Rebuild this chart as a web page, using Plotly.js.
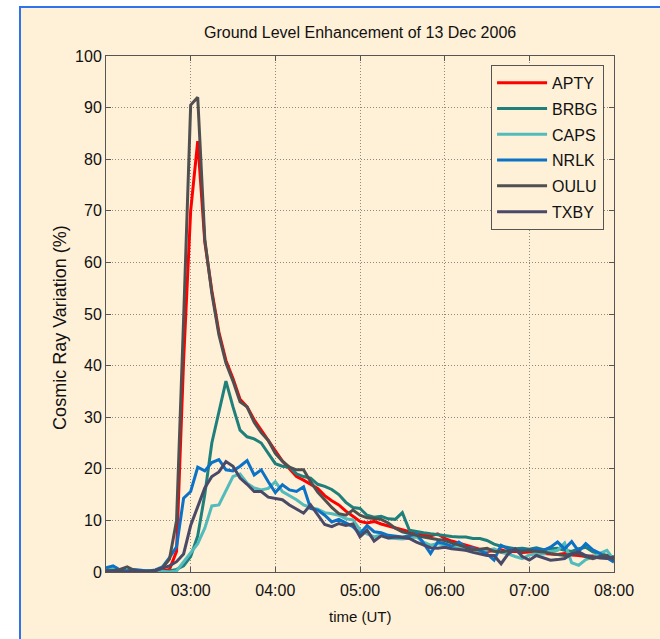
<!DOCTYPE html>
<html>
<head>
<meta charset="utf-8">
<script src="https://cdn.plot.ly/plotly-3.0.1.min.js"></script>
<style>
  html, body { margin: 0; padding: 0; background: #ffffff; }
  #frame { position: absolute; left: 19px; top: 6px; width: 641px; height: 633px;
           background: #FFF0D8; border-left: 2px solid #2F72EE; border-top: 2px solid #2F72EE; box-sizing: border-box; }
  #chart { position: absolute; left: 0; top: 0; width: 660px; height: 639px; }
</style>
</head>
<body>
<div id="frame"></div>
<div id="chart"></div>
<script>
// 5-minute samples from 02:00 to 08:00 UT, 13 Dec 2006
const startTime = '2006-12-13T02:00:00Z';
const stepMinutes = 5;
const nPoints = 73;

const stations = ['APTY', 'BRBG', 'CAPS', 'NRLK', 'OULU', 'TXBY'];

const APTY = [0, 0.1, 0.2, 0.1, 0, 0.2, 0.1, 0, 0.2, 0.5,
  4, 41, 70, 83.5, 64, 54.5, 46.5, 41, 37.5, 33.5,
  32, 29.5, 27.5, 25.5, 23.3, 21.5, 20, 18.5, 17.8, 17,
  16.2, 14.8, 13.8, 13, 11.8, 10.8, 9.8, 9.5, 9.8, 9.3,
  8.9, 8.6, 8.2, 7.8, 7.5, 7.3, 7.0, 7.4, 6.5, 6.0,
  5.6, 5.2, 4.8, 4.4, 4.0, 4.1, 4.3, 3.9, 4.0, 3.8,
  3.9, 3.7, 3.6, 3.5, 3.4, 3.6, 3.3, 3.2, 3.0, 3.1,
  2.9, 2.8, 2.6];

const BRBG = [0.2, 0.4, 0.1, 0.3, 0.2, 0, 0.3, 0.1, 0, 0.2,
  0.5, 1.2, 3, 7, 15, 25, 31, 37, 32, 27.5,
  26.2, 25.8, 25, 23, 21, 20.5, 20.3, 19, 18.5, 18.2,
  17, 16.6, 16, 15, 13.5, 12.5, 12.3, 11, 10.6, 10.8,
  10.3, 10.2, 11.5, 8.1, 7.8, 7.6, 7.4, 7.2, 7.1, 6.9,
  6.8, 6.8, 6.5, 6.5, 6.1, 5.4, 5.0, 4.8, 4.5, 4.6,
  4.4, 4.7, 4.3, 4.5, 4.6, 4.2, 4.0, 4.5, 4.8, 3.9,
  3.6, 3.3, 2.9];

const CAPS = [0.5, 1.0, 0.3, 0.2, 0.4, 0.2, 0.1, 0.3, 0.2, 0,
  0.2, 2, 3.8, 5.5, 8.5, 12.8, 13, 15.8, 18.5, 19,
  17.2, 16.3, 15.9, 16.2, 17.5, 15.6, 14.8, 14, 13, 12.5,
  12.2, 11.5, 11.3, 11, 10.3, 10.1, 8.2, 7.4, 6.8, 7.2,
  6.6, 6.5, 6.4, 6.6, 6.8, 5.8, 5.2, 5.5, 5.2, 5.0,
  4.6, 4.2, 4.4, 4.0, 4.3, 4.5, 3.8, 3.5, 3.0, 2.6,
  3.3, 3.6, 3.5, 4.0, 4.2, 5.6, 1.8, 1.3, 2.4, 2.9,
  3.6, 4.2, 2.3];

const NRLK = [0.8, 1.2, 0.4, 0.2, 0.5, 0.3, 0.2, 0.4, 1.0, 2.8,
  4.9, 14.3, 15.6, 20.3, 19.6, 21.2, 21.8, 19.8, 19.6, 20.5,
  21.6, 18.8, 19.8, 17.5, 15.4, 16.9, 15.9, 15.6, 16.5, 12.3,
  12.0, 11.0, 9.7, 10.2, 9.5, 8.8, 7.4, 9.0, 7.8, 7.6,
  7.1, 6.9, 6.8, 7.0, 7.4, 5.6, 3.6, 5.8, 5.5, 5.0,
  5.8, 4.8, 4.6, 4.2, 3.5, 2.3, 5.2, 4.5, 4.3, 4.2,
  4.3, 4.5, 4.2, 4.8, 5.8, 4.5, 5.9, 4.0, 5.5, 4.3,
  3.6, 2.8, 1.9];

const OULU = [0.3, 0.2, 0.5, 1.0, 0.3, 0.2, 0.1, 0.3, 0.8, 2.5,
  10, 49, 90.5, 92, 64.5, 54, 46, 40.5, 37, 33,
  32, 29, 27, 25.5, 23, 21.5, 20.3, 19.8, 19.8, 17.5,
  15.5, 14, 12.5, 11.3, 11, 12, 11, 10.5, 10.4, 10.2,
  9.5, 8.5, 7.8, 7.4, 7.1, 6.8, 6.5, 6.3, 6.1, 5.6,
  5.2, 4.8, 4.3, 4.4, 4.6, 4.0, 3.9, 4.1, 4.2, 4.0,
  4.2, 4.0, 3.9, 3.6, 3.4, 3.2, 3.5, 3.6, 3.0, 2.6,
  3.0, 3.2, 2.3];

const TXBY = [0.1, 0.2, 0.1, 0, 0.2, 0.1, 0, 0.3, 0.7, 1.2,
  2, 3.5, 9, 12.5, 16.3, 18.5, 19.4, 21.4, 20.5, 18.2,
  17, 15.6, 15.6, 14.5, 14.3, 14.0, 13.0, 12.2, 11.4, 13,
  11.2, 9.2, 8.8, 9.4, 9.0, 9.3, 6.8, 8.1, 6.0, 7.0,
  6.6, 6.8, 6.7, 6.5, 5.8, 5.2, 4.7, 4.6, 4.8, 4.5,
  4.3, 4.2, 3.8, 3.5, 3.2, 3.2, 1.6, 3.5, 4.5, 3.0,
  2.3, 3.2, 2.8, 2.3, 2.4, 2.6, 3.5, 3.9, 3.2, 2.9,
  2.7, 2.6, 2.9];

const seriesValues = [APTY, BRBG, CAPS, NRLK, OULU, TXBY];
const seriesColors = ['#FF0000', '#1E7F7B', '#52BCBC', '#0B72C6', '#505050', '#4A4A68'];

const tickTimes = ['2006-12-13 03:00', '2006-12-13 04:00', '2006-12-13 05:00',
                   '2006-12-13 06:00', '2006-12-13 07:00', '2006-12-13 08:00'];
const tickLabels = ['03:00', '04:00', '05:00', '06:00', '07:00', '08:00'];
const yTicks = [0, 10, 20, 30, 40, 50, 60, 70, 80, 90, 100];

function pad(n) { return (n < 10 ? '0' : '') + n; }
const t0 = new Date(startTime).getTime();
const times = [];
for (let i = 0; i < nPoints; i++) {
  const d = new Date(t0 + i * stepMinutes * 60000);
  times.push(d.getUTCFullYear() + '-' + pad(d.getUTCMonth() + 1) + '-' + pad(d.getUTCDate()) +
             ' ' + pad(d.getUTCHours()) + ':' + pad(d.getUTCMinutes()));
}

const FONT = '"Liberation Sans", Arial, sans-serif';

const traces = stations.map((name, k) => ({
  type: 'scatter',
  mode: 'lines',
  name: name,
  x: times,
  y: seriesValues[k],
  line: { color: seriesColors[k], width: 3 },
  legendgroup: name,
  hoverinfo: 'x+y+name'
}));

const layout = {
  width: 660,
  height: 639,
  paper_bgcolor: 'rgba(0,0,0,0)',
  plot_bgcolor: '#FFF0D8',
  margin: { l: 106, r: 46, t: 56, b: 67, pad: 0 },
  font: { family: FONT, size: 16, color: '#111111' },
  showlegend: true,
  legend: {
    x: 0.758, y: 0.983, xanchor: 'left', yanchor: 'top',
    bgcolor: '#FFF0D8', bordercolor: '#555555', borderwidth: 1,
    font: { family: FONT, size: 16, color: '#111111' },
    traceorder: 'grouped', tracegroupgap: 2, itemwidth: 50
  },
  xaxis: {
    type: 'date',
    range: ['2006-12-13 02:00', '2006-12-13 08:00'],
    tickmode: 'array',
    tickvals: tickTimes,
    ticktext: tickLabels,
    ticks: 'inside', ticklen: 5, tickcolor: '#555555',
    showline: true, linecolor: '#555555', linewidth: 1, mirror: 'ticks',
    showgrid: true, gridcolor: '#8F8A80', griddash: '1px,2px', gridwidth: 1,
    zeroline: false, ticklabelstandoff: 4,
    tickfont: { family: FONT, size: 16, color: '#111111' }
  },
  yaxis: {
    range: [0, 100],
    tickmode: 'array',
    tickvals: yTicks,
    ticks: 'inside', ticklen: 5, tickcolor: '#555555',
    showline: true, linecolor: '#555555', linewidth: 1, mirror: 'ticks',
    showgrid: true, gridcolor: '#8F8A80', griddash: '1px,2px', gridwidth: 1,
    zeroline: false,
    tickfont: { family: FONT, size: 16, color: '#111111' }
  },
  annotations: [
    { text: 'Ground Level Enhancement of 13 Dec 2006', xref: 'paper', yref: 'paper',
      x: 0.5, y: 1.0446, xanchor: 'center', yanchor: 'middle', showarrow: false,
      font: { family: FONT, size: 16, color: '#111111' } },
    { text: 'time (UT)', xref: 'paper', yref: 'paper',
      x: 0.5, y: -0.087, xanchor: 'center', yanchor: 'middle', showarrow: false,
      font: { family: FONT, size: 15, color: '#111111' } },
    { text: 'Cosmic Ray Variation (%)', xref: 'paper', yref: 'paper',
      x: -0.0906, y: 0.475, xanchor: 'center', yanchor: 'middle', showarrow: false,
      textangle: -90,
      font: { family: FONT, size: 18, color: '#111111' } }
  ]
};

Plotly.newPlot('chart', traces, layout, { displayModeBar: false, staticPlot: true });
</script>
</body>
</html>
